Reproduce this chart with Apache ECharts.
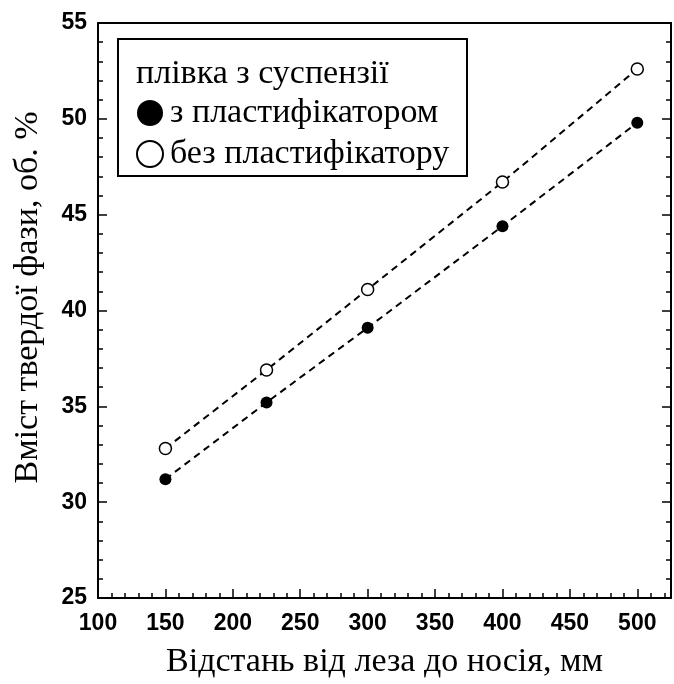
<!DOCTYPE html>
<html>
<head>
<meta charset="utf-8">
<script src="https://cdn.jsdelivr.net/npm/echarts@6/dist/echarts.min.js"></script>
<style>html,body{margin:0;padding:0;background:#fff;}#c{width:674px;height:684px;}</style>
</head>
<body>
<div id="c"></div>
<script>
const distances = [150, 225, 300, 400, 500];
const withPlasticizer = [31.2, 35.2, 39.1, 44.4, 49.8];
const withoutPlasticizer = [32.8, 36.9, 41.1, 46.7, 52.6];
const legendTitle = 'плівка з суспензії';
const nameWith = 'з пластифікатором';
const nameWithout = 'без пластифікатору';
const xName = 'Відстань від леза до носія, мм';
const yName = 'Вміст твердої фази, об. %';

const serif = "'Liberation Serif', 'DejaVu Serif', serif";
const tickFont = "'Liberation Sans', Arial, sans-serif";

const chart = echarts.init(document.getElementById('c'));
const pairs = arr => distances.map((d, i) => [d, arr[i]]);

chart.setOption({
  animation: false,
  backgroundColor: '#fff',
  grid: { left: 98, right: 3, top: 23, bottom: 83 },
  xAxis: [{
    type: 'value', min: 100, max: 525, interval: 50, position: 'bottom',
    name: xName, nameLocation: 'middle', nameGap: 47,
    nameTextStyle: { fontFamily: serif, fontSize: 34, color: '#000' },
    axisLine: { lineStyle: { color: '#000', width: 2 } },
    axisTick: { inside: true, length: 9, lineStyle: { color: '#000', width: 1.5 } },
    minorTick: { show: true, splitNumber: 5, length: 5, lineStyle: { color: '#000', width: 1.5 } },
    axisLabel: { showMaxLabel: false, margin: 14, fontFamily: tickFont, fontWeight: 'bold', fontSize: 23, color: '#000' },
    splitLine: { show: false }
  }, {
    type: 'value', min: 100, max: 525, position: 'top',
    axisLine: { show: true, lineStyle: { color: '#000', width: 2 } },
    axisTick: { show: false }, axisLabel: { show: false }, splitLine: { show: false }
  }],
  yAxis: [{
    type: 'value', min: 25, max: 55, interval: 5, position: 'left',
    name: yName, nameLocation: 'middle', nameGap: 53,
    nameTextStyle: { fontFamily: serif, fontSize: 34, color: '#000', padding: [0, 0, 0, 26] },
    axisLine: { show: true, lineStyle: { color: '#000', width: 2 } },
    axisTick: { inside: true, length: 9, lineStyle: { color: '#000', width: 1.5 } },
    minorTick: { show: true, splitNumber: 5, length: 5, lineStyle: { color: '#000', width: 1.5 } },
    axisLabel: { margin: 11, fontFamily: tickFont, fontWeight: 'bold', fontSize: 23, color: '#000' },
    splitLine: { show: false }
  }, {
    type: 'value', min: 25, max: 55, interval: 5, position: 'right',
    axisLine: { show: true, lineStyle: { color: '#000', width: 2 } },
    axisTick: { inside: true, length: 9, lineStyle: { color: '#000', width: 1.5 } },
    minorTick: { show: true, splitNumber: 5, length: 5, lineStyle: { color: '#000', width: 1.5 } },
    axisLabel: { show: false }, splitLine: { show: false }
  }],
  legend: {
    orient: 'vertical', left: 136, top: 96, padding: 0, icon: 'circle',
    itemWidth: 26, itemHeight: 26, itemGap: 7,
    textStyle: { fontFamily: serif, fontSize: 34, color: '#000', padding: [0, 0, 0, 2] },
    data: [
      { name: nameWith, itemStyle: { color: '#000', borderWidth: 0 } },
      { name: nameWithout, itemStyle: { color: '#fff', borderColor: '#000', borderWidth: 2 } }
    ]
  },
  graphic: [
    { type: 'rect', shape: { x: 118, y: 39, width: 349, height: 137 }, style: { fill: 'none', stroke: '#000', lineWidth: 2 }, z: 10 },
    { type: 'text', left: 136, top: 57, style: { text: legendTitle, font: "34px 'Liberation Serif', serif", fill: '#000' }, z: 10 }
  ],
  series: [{
    name: nameWith, type: 'line', data: pairs(withPlasticizer),
    symbol: 'circle', symbolSize: 12,
    itemStyle: { color: '#000' },
    lineStyle: { color: '#000', width: 2, type: [7, 5] }
  }, {
    name: nameWithout, type: 'line', data: pairs(withoutPlasticizer),
    symbol: 'circle', symbolSize: 12,
    itemStyle: { color: '#fff', borderColor: '#000', borderWidth: 1.5 },
    lineStyle: { color: '#000', width: 2, type: [7, 5] }
  }]
});
</script>
</body>
</html>
